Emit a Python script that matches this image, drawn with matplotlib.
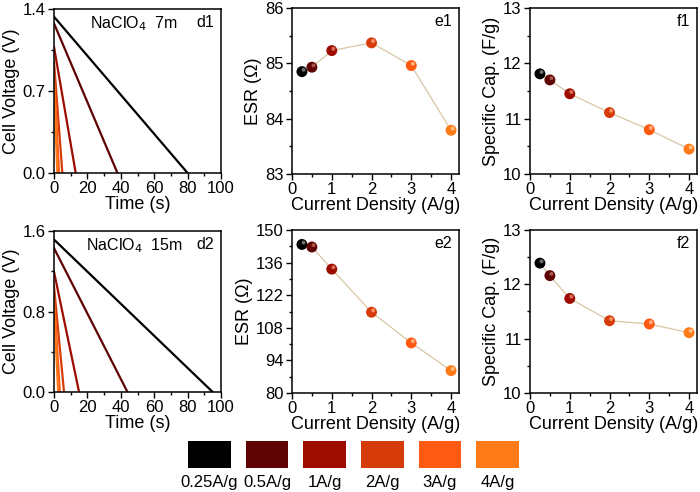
import matplotlib
matplotlib.use("Agg")
import matplotlib.pyplot as plt
from matplotlib.ticker import MultipleLocator, FixedLocator
import matplotlib.transforms as mtransforms

plt.rcParams['font.family'] = ['Liberation Sans', 'DejaVu Sans']

# ---- data ----
rate_labels = ['0.25A/g', '0.5A/g', '1A/g', '2A/g', '3A/g', '4A/g']
current = [0.25, 0.5, 1, 2, 3, 4]
colors = ['#000000', '#5e0202', '#9e0c00', '#d63c0a', '#ff5a12', '#ff7a18']

# galvanostatic discharge: start voltage (after IR drop) and discharge end time
d1_v0 = [1.334, 1.277, 1.076, 0.95, 0.85, 0.75]
d1_tend = [80, 38, 13, 5, 3, 2]
d2_v0 = [1.515, 1.43, 1.195, 1.05, 0.95, 0.85]
d2_tend = [95, 44, 15, 6, 3.5, 2.5]

esr1 = [84.85, 84.93, 85.23, 85.37, 84.96, 83.79]
esr2 = [143.8, 142.7, 133.2, 114.7, 101.5, 89.6]
cap1 = [11.81, 11.70, 11.45, 11.11, 10.80, 10.45]
cap2 = [12.39, 12.16, 11.74, 11.33, 11.27, 11.11]

esr2_ticks = [80, 94, 108, 122, 136, 150]

W, H = 700, 492
fig = plt.figure(figsize=(7, 4.92), dpi=100)

def axpos(l, t, r, b):
    return fig.add_axes([l / W, 1 - b / H, (r - l) / W, (b - t) / H])

TICK_FS = 12
LAB_FS = 13
TXT_FS = 11.5

def style(ax):
    ax.tick_params(which='both', direction='out', top=False, right=False,
                   labelsize=TICK_FS, width=1, pad=2)
    ax.tick_params(which='major', length=4)
    ax.tick_params(which='minor', length=2.5)
    for s in ax.spines.values():
        s.set_linewidth(1.1)

def dpanel(ax, v0, tend, ymax, ystep, title, tag):
    for v, t, c in zip(v0, tend, colors):
        ax.plot([0, t], [v, 0], color=c, lw=1.6)
    ax.set_xlim(0, 100)
    ax.set_ylim(0, ymax)
    ax.xaxis.set_major_locator(MultipleLocator(20))
    ax.xaxis.set_minor_locator(MultipleLocator(10))
    ax.yaxis.set_major_locator(MultipleLocator(ystep))
    ax.yaxis.set_minor_locator(MultipleLocator(ystep / 2))
    ax.yaxis.set_major_formatter(matplotlib.ticker.FormatStrFormatter('%.1f'))
    ax.set_xlabel('Time (s)', fontsize=LAB_FS, labelpad=0)
    ax.set_ylabel('Cell Voltage (V)', fontsize=LAB_FS, labelpad=2)
    ax.text(0.48, 0.965, title, transform=ax.transAxes, ha='center', va='top', fontsize=TXT_FS)
    ax.text(0.96, 0.965, tag, transform=ax.transAxes, ha='right', va='top', fontsize=TXT_FS)
    style(ax)

def spanel(ax, y, ylim, ylabel, tag, ymaj=None, ymin=None, yticks=None):
    ax.plot(current, y, color='#d8c6a6', lw=0.9, zorder=1)
    ax.scatter(current, y, s=62, c=colors, edgecolors='none', zorder=2)
    hl = mtransforms.offset_copy(ax.transData, fig=fig, x=1.6, y=1.8, units='dots')
    hcol = ['#7a7a7a', '#b06050', '#e07a60', '#ff9a70', '#ffb890', '#ffc890']
    ax.scatter(current, y, s=8, c=hcol, edgecolors='none', zorder=3, transform=hl, alpha=0.9)
    ax.set_xlim(0, 4.2)
    ax.set_ylim(*ylim)
    ax.xaxis.set_major_locator(MultipleLocator(1))
    ax.xaxis.set_minor_locator(MultipleLocator(0.5))
    if yticks is not None:
        ax.yaxis.set_major_locator(FixedLocator(yticks))
        mids = [(a + b) / 2 for a, b in zip(yticks[:-1], yticks[1:])]
        ax.yaxis.set_minor_locator(FixedLocator(mids))
    else:
        ax.yaxis.set_major_locator(MultipleLocator(ymaj))
        ax.yaxis.set_minor_locator(MultipleLocator(ymin))
    ax.set_xlabel('Current Density (A/g)', fontsize=LAB_FS, labelpad=0)
    ax.set_ylabel(ylabel, fontsize=LAB_FS, labelpad=2)
    ax.text(0.96, 0.965, tag, transform=ax.transAxes, ha='right', va='top', fontsize=TXT_FS)
    style(ax)

ax_d1 = axpos(54, 9, 221, 173)
ax_e1 = axpos(292, 8, 459, 174)
ax_f1 = axpos(530, 8, 697, 174)
ax_d2 = axpos(54, 231, 221, 392)
ax_e2 = axpos(292, 230, 459, 393)
ax_f2 = axpos(530, 230, 697, 393)

dpanel(ax_d1, d1_v0, d1_tend, 1.4, 0.7, 'NaClO$_4$  7m', 'd1')
dpanel(ax_d2, d2_v0, d2_tend, 1.6, 0.8, 'NaClO$_4$  15m', 'd2')
spanel(ax_e1, esr1, (83, 86), 'ESR (Ω)', 'e1', 1, 0.5)
spanel(ax_e2, esr2, (80, 150), 'ESR (Ω)', 'e2', yticks=esr2_ticks)
spanel(ax_f1, cap1, (10, 13), 'Specific Cap. (F/g)', 'f1', 1, 0.5)
spanel(ax_f2, cap2, (10, 13), 'Specific Cap. (F/g)', 'f2', 1, 0.5)

# colour key at bottom
lax = axpos(175, 441, 532, 468)
xs = list(range(len(rate_labels)))
lax.bar(xs, [1] * len(xs), width=0.74, color=colors, align='center')
lax.set_xlim(-0.6, len(xs) - 0.4)
lax.set_ylim(0, 1)
lax.axis('off')
for x, lab in zip(xs, rate_labels):
    lax.text(x, -0.25, lab, ha='center', va='top', fontsize=12)

fig.savefig('out.png', dpi=100)
